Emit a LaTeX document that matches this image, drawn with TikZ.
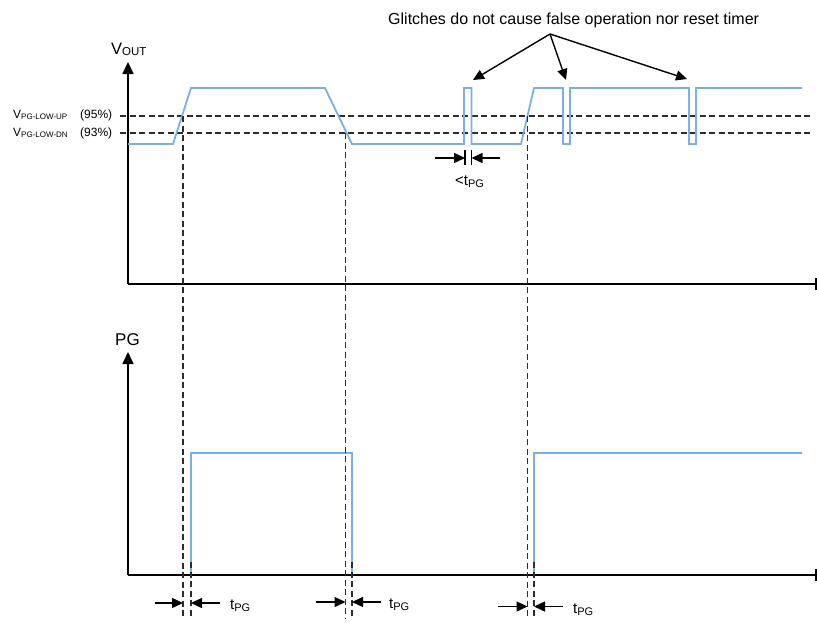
\documentclass[tikz,border=0pt]{standalone}
\usepackage{fontspec}
\setmainfont{Liberation Sans}
\usetikzlibrary{arrows.meta,calc}
\definecolor{wave}{RGB}{122,176,228}
\definecolor{guidegray}{RGB}{45,45,45}
\newcommand{\sz}[1]{\fontsize{#1}{#1}\selectfont}
\newcommand{\lowsub}[2]{\raisebox{-#1}{#2}}
\begin{document}
\begin{tikzpicture}[x=1pt,y=-1pt,
  axis/.style={line width=1.7pt,black},
  yaxis/.style={axis,-{Triangle[length=12pt,width=11pt]}},
  wavestyle/.style={line width=1.8pt,wave,line join=miter},
  guide/.style={line width=1.2pt,guidegray,dash pattern=on 6pt off 3.5pt},
  dimarrow/.style={line width=1.4pt,-{Triangle[length=11pt,width=10pt]}},
  callout/.style={line width=1.4pt,-{Triangle[length=11pt,width=10pt]}},
  lbl/.style={inner sep=0pt,anchor=base west}
]
\useasboundingbox (0,0) rectangle (817,622);

% ---------- top axes ----------
\coordinate (o1) at (128,284);
\coordinate (y1) at (128,62);
\coordinate (x1) at (816,284);
\draw[yaxis] (o1) -- (y1);
\draw[axis] (o1) -- (x1);
\draw[axis] ($(x1)+(0,-6)$) -- ($(x1)+(0,6)$);

\node[lbl] (vout) at (111,54) {\sz{16.5}V\lowsub{1.5pt}{\sz{11.5}OUT}};

% threshold lines
\coordinate (th1a) at (120,116); \coordinate (th1b) at (812,116);
\coordinate (th2a) at (120,133); \coordinate (th2b) at (812,133);
\draw[guide] (th1a) -- (th1b);
\draw[guide] (th2a) -- (th2b);
\node[lbl] (lup) at (13,118.5) {\sz{12}V\lowsub{1pt}{\sz{8}PG-LOW-UP}};
\node[lbl] (pup) at (80,118.5) {\sz{12}(95\%)};
\node[lbl] (ldn) at (13,136) {\sz{12}V\lowsub{1pt}{\sz{8}PG-LOW-DN}};
\node[lbl] (pdn) at (80,136) {\sz{12}(93\%)};

% VOUT waveform
\draw[wavestyle] (128,144) -- (173,144) -- (191,88) -- (325,88) -- (352,144)
  -- (464,144) -- (464,88) -- (471.5,88) -- (471.5,144) -- (521,144) -- (534,88)
  -- (563,88) -- (563,144) -- (570,144) -- (570,88) -- (689,88) -- (689,144)
  -- (696,144) -- (696,88) -- (802,88);

% ---------- bottom axes ----------
\coordinate (o2) at (128,575);
\coordinate (y2) at (128,352);
\coordinate (x2) at (816,575);
\draw[yaxis] (o2) -- (y2);
\draw[axis] (o2) -- (x2);
\draw[axis] ($(x2)+(0,-6)$) -- ($(x2)+(0,6)$);
\node[lbl] (pg) at (115,345) {\sz{17}PG};

% PG waveform
\draw[wavestyle] (191,575) -- (191,453) -- (352,453) -- (352,575);
\draw[wavestyle] (534,575) -- (534,453) -- (802,453);

% ---------- vertical guides ----------
\draw[guide] (183,116) -- (183,618);
\draw[guide] (345.5,133) -- (345.5,618);
\draw[guide] (527.5,116) -- (527.5,618);
\draw[guide] (191,562) -- (191,618);
\draw[guide] (352,562) -- (352,618);
\draw[guide] (534,562) -- (534,618);

% ---------- tPG dimensions ----------
\coordinate (a1l) at (155,603); \coordinate (a1le) at (183,603);
\coordinate (a1r) at (220,603); \coordinate (a1re) at (191,603);
\draw[dimarrow] (a1l) -- (a1le);
\draw[dimarrow] (a1r) -- (a1re);
\node[lbl] (t1) at (230,609) {\sz{15}t\lowsub{2.5pt}{\sz{11}PG}};

\coordinate (a2l) at (316,602); \coordinate (a2le) at (345.5,602);
\coordinate (a2r) at (381,602); \coordinate (a2re) at (352,602);
\draw[dimarrow] (a2l) -- (a2le);
\draw[dimarrow] (a2r) -- (a2re);
\node[lbl] (t2) at (389,608) {\sz{15}t\lowsub{2.5pt}{\sz{11}PG}};

\coordinate (a3l) at (498,606.5); \coordinate (a3le) at (527.5,606.5);
\coordinate (a3r) at (563,606.5); \coordinate (a3re) at (534,606.5);
\draw[dimarrow] (a3l) -- (a3le);
\draw[dimarrow] (a3r) -- (a3re);
\node[lbl] (t3) at (573,613) {\sz{15}t\lowsub{2.5pt}{\sz{11}PG}};

% ---------- glitch width ----------
\draw[line width=1.2pt,black] (465,150) -- (465,165);
\draw[line width=1.2pt,black] (471.5,150) -- (471.5,165);
\coordinate (gl) at (435,158); \coordinate (gle) at (465,158);
\coordinate (gr) at (500,158); \coordinate (gre) at (471.5,158);
\draw[dimarrow] (gl) -- (gle);
\draw[dimarrow] (gr) -- (gre);
\node[lbl] (tg) at (455,185) {\sz{15}<t\lowsub{2.5pt}{\sz{11}PG}};

% ---------- callout ----------
\node[lbl] (note) at (388,24) {\sz{16}Glitches do not cause false operation nor reset timer};
\coordinate (src) at (550,34);
\coordinate (g1) at (473,80);
\coordinate (g2) at (566,80);
\coordinate (g3) at (687,79);
\draw[callout] (src) -- (g1);
\draw[callout] (src) -- (g2);
\draw[callout] (src) -- (g3);
\end{tikzpicture}
\end{document}
